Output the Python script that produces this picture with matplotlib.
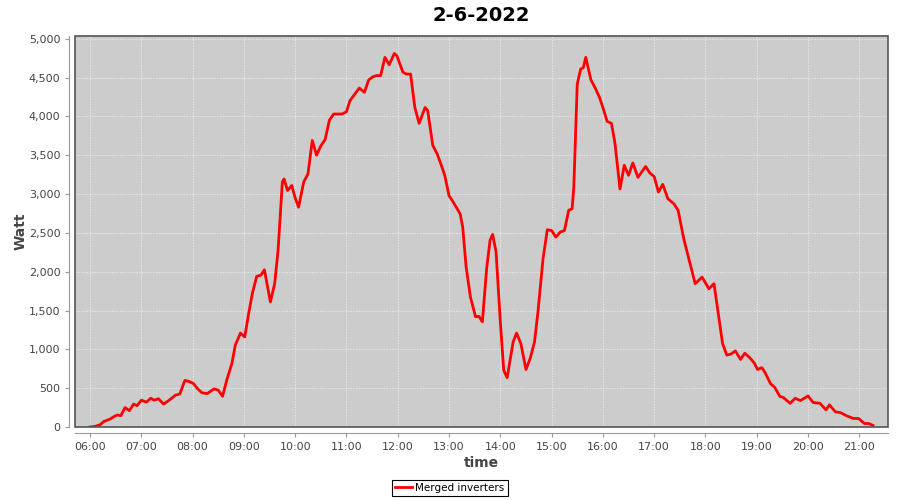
import matplotlib
matplotlib.use("Agg")
import matplotlib.pyplot as plt
from matplotlib.patches import Rectangle
from matplotlib.ticker import FuncFormatter, MultipleLocator

# readings (time of day, watt)
times = ["06:00", "06:05", "06:12", "06:16", "06:23", "06:29", "06:32", "06:36", "06:41", "06:46",
         "06:51", "06:55", "07:00", "07:06", "07:11", "07:15", "07:20", "07:26", "07:32", "07:40",
         "07:45", "07:51", "07:56", "08:01", "08:06", "08:11", "08:17", "08:25", "08:30", "08:35",
         "08:40", "08:46", "08:50", "08:56", "09:01", "09:05", "09:10", "09:15", "09:20", "09:24",
         "09:27", "09:31", "09:36", "09:40", "09:45", "09:47", "09:51", "09:56", "10:00", "10:04",
         "10:10", "10:15", "10:17", "10:20", "10:25", "10:30", "10:35", "10:40", "10:45", "10:50",
         "10:55", "11:00", "11:04", "11:10", "11:15", "11:21", "11:26", "11:31", "11:35", "11:40",
         "11:45", "11:50", "11:56", "11:59", "12:06", "12:10", "12:15", "12:20", "12:25", "12:32",
         "12:35", "12:41", "12:46", "12:51", "12:55", "13:00", "13:05", "13:13", "13:16", "13:20",
         "13:25", "13:31", "13:35", "13:39", "13:44", "13:48", "13:51", "13:55", "14:00", "14:04",
         "14:08", "14:15", "14:19", "14:24", "14:30", "14:35", "14:40", "14:44", "14:50", "14:55",
         "15:00", "15:05", "15:10", "15:15", "15:20", "15:24", "15:26", "15:30", "15:34", "15:37",
         "15:40", "15:46", "15:51", "15:56", "16:00", "16:05", "16:10", "16:14", "16:20", "16:25",
         "16:30", "16:35", "16:41", "16:50", "16:55", "17:00", "17:05", "17:10", "17:16", "17:23",
         "17:28", "17:35", "17:40", "17:48", "17:56", "18:04", "18:10", "18:15", "18:20", "18:25",
         "18:30", "18:35", "18:41", "18:46", "18:52", "18:57", "19:01", "19:06", "19:10", "19:16",
         "19:21", "19:27", "19:31", "19:39", "19:45", "19:51", "20:00", "20:06", "20:14", "20:21",
         "20:25", "20:32", "20:38", "20:45", "20:53", "20:59", "21:06", "21:11", "21:16"]
watts = [0, 5, 30, 70, 100, 140, 155, 145, 250, 210,
         295, 275, 345, 320, 370, 345, 365, 295, 340, 410,
         425, 600, 585, 560, 490, 440, 430, 490, 475, 395,
         605, 820, 1055, 1210, 1160, 1425, 1725, 1940, 1955, 2025,
         1850, 1610, 1845, 2275, 3155, 3195, 3045, 3110, 2950, 2830,
         3155, 3260, 3430, 3690, 3500, 3620, 3700, 3950, 4030, 4030,
         4030, 4060, 4200, 4290, 4365, 4310, 4470, 4510, 4525, 4525,
         4760, 4665, 4810, 4780, 4570, 4545, 4545, 4115, 3910, 4115,
         4075, 3625, 3520, 3370, 3240, 2980, 2895, 2745, 2575, 2060,
         1675, 1420, 1425, 1355, 2040, 2405, 2480, 2255, 1355, 730,
         635, 1095, 1210, 1075, 740, 885, 1095, 1480, 2170, 2540,
         2530, 2445, 2510, 2530, 2790, 2810, 3090, 4415, 4610, 4625,
         4760, 4470, 4365, 4245, 4115, 3935, 3910, 3665, 3065, 3370,
         3240, 3400, 3215, 3355, 3270, 3225, 3025, 3125, 2940, 2875,
         2790, 2405, 2190, 1845, 1930, 1780, 1845, 1460, 1075, 925,
         940, 980, 870, 950, 890, 825, 740, 765, 695, 560,
         510, 395, 380, 305, 370, 340, 400, 315, 305, 220,
         285, 195, 185, 145, 110, 110, 45, 45, 20]
hours = list(range(6, 22))
tick_labels = ["%02d:00" % h for h in hours]

x = [int(t[:2]) + int(t[3:]) / 60 for t in times]

fig = plt.figure(figsize=(9, 5), dpi=100)
ax = fig.add_axes([75 / 900, 1 - 427 / 500, 813 / 900, 391 / 500])
ax.set_facecolor("#cccccc")

ax.plot(x, watts, color="red", linewidth=2, label="Merged inverters", zorder=3)

ax.set_xlim(5.707, 21.559)
ax.set_ylim(0, 5035)
ax.set_xticks(hours)
ax.set_xticklabels(tick_labels)
ax.yaxis.set_major_locator(MultipleLocator(500))
ax.yaxis.set_major_formatter(FuncFormatter(lambda v, p: "{:,.0f}".format(v)))

ax.grid(True, color="#f4f4f4", linestyle=(0, (2, 2)), linewidth=0.5)
ax.set_axisbelow(True)

for s in ["top", "right"]:
    ax.spines[s].set_visible(False)
for s in ["left", "bottom"]:
    ax.spines[s].set_position(("outward", 4))
    ax.spines[s].set_color("#999999")
ax.add_patch(Rectangle((0, 0), 1, 1, transform=ax.transAxes, fill=False,
                       edgecolor="#555555", linewidth=1.2, clip_on=False, zorder=4))

ax.tick_params(colors="#999999", labelcolor="#444444", labelsize=8, length=3, width=0.8)

ax.set_title("2-6-2022", fontsize=14, fontweight="bold", pad=11)
ax.set_xlabel("time", fontsize=10, fontweight="bold", color="#444444", labelpad=3)
ax.set_ylabel("Watt", fontsize=10, fontweight="bold", color="#444444", labelpad=1)

leg = fig.legend(loc="center", bbox_to_anchor=(0.5, 0.024), fontsize=7.5, fancybox=False,
                 edgecolor="black", framealpha=1, handlelength=1.6, borderpad=0.3,
                 handletextpad=0.3, borderaxespad=0)
leg.get_frame().set_linewidth(0.8)

fig.savefig("out.png", dpi=100)
